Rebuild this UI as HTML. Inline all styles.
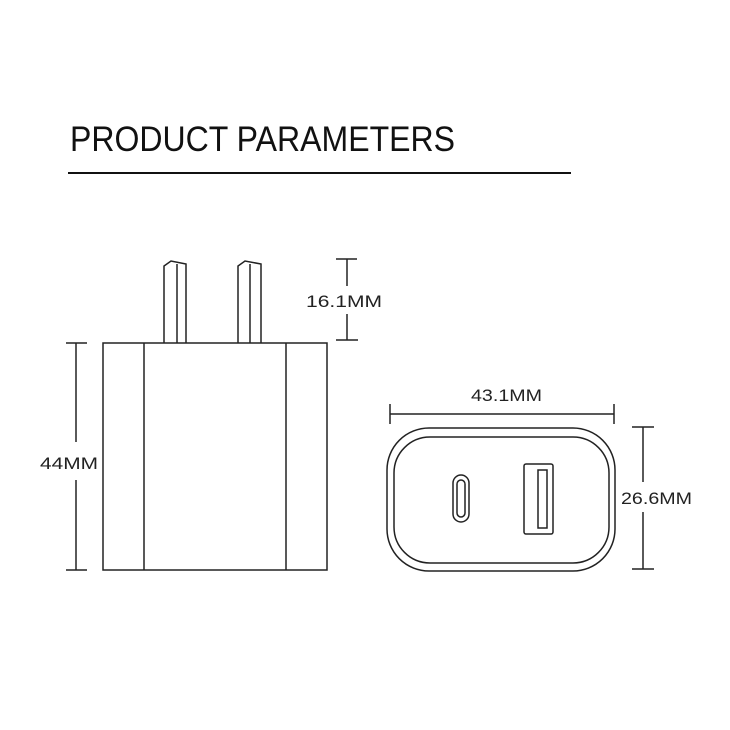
<!DOCTYPE html>
<html><head><style>html,body{margin:0;padding:0;background:#fff}svg{display:block}</style></head><body>
<svg width="730" height="730" viewBox="0 0 730 730" xmlns="http://www.w3.org/2000/svg">
<rect width="730" height="730" fill="#fff"/>
<text x="70" y="151" font-family="Liberation Sans, sans-serif" font-size="35" fill="#111" textLength="385" lengthAdjust="spacingAndGlyphs">PRODUCT PARAMETERS</text>
<line x1="68" y1="173" x2="571" y2="173" stroke="#111" stroke-width="2"/>
<g fill="none" stroke="#222" stroke-width="1.5">
<path d="M164 343 V266 L171 261 L186 264 V343"/>
<line x1="177" y1="264" x2="177" y2="343"/>
<path d="M238 343 V266 L245 261 L261 264 V343"/>
<line x1="250" y1="264" x2="250" y2="343"/>
<rect x="103" y="343" width="224" height="227"/>
<line x1="144" y1="343" x2="144" y2="570"/>
<line x1="286" y1="343" x2="286" y2="570"/>
<line x1="76" y1="343" x2="76" y2="442"/>
<line x1="76" y1="480" x2="76" y2="570"/>
<line x1="66" y1="343" x2="87" y2="343"/>
<line x1="66" y1="570" x2="87" y2="570"/>
<line x1="347" y1="259" x2="347" y2="286"/>
<line x1="347" y1="314" x2="347" y2="340"/>
<line x1="336" y1="259" x2="357" y2="259"/>
<line x1="336" y1="340" x2="358" y2="340"/>
<rect x="387" y="428" width="228" height="143" rx="42"/>
<rect x="394" y="437" width="215" height="126" rx="36"/>
<rect x="453" y="475" width="16" height="47" rx="8"/>
<rect x="457" y="480" width="8" height="37" rx="4"/>
<rect x="524" y="464" width="29" height="70" rx="2"/>
<rect x="538" y="470" width="9" height="58"/>
<line x1="390" y1="414" x2="614" y2="414"/>
<line x1="390" y1="404" x2="390" y2="424"/>
<line x1="614" y1="404" x2="614" y2="424"/>
<line x1="643" y1="427" x2="643" y2="482"/>
<line x1="643" y1="512" x2="643" y2="569"/>
<line x1="632" y1="427" x2="654" y2="427"/>
<line x1="632" y1="569" x2="654" y2="569"/>
</g>
<g font-family="Liberation Sans, sans-serif" font-size="17" fill="#222">
<text x="40" y="469" textLength="58" lengthAdjust="spacingAndGlyphs">44MM</text>
<text x="306" y="307" textLength="76" lengthAdjust="spacingAndGlyphs">16.1MM</text>
<text x="471" y="401" textLength="71" lengthAdjust="spacingAndGlyphs">43.1MM</text>
<text x="621" y="504" textLength="71" lengthAdjust="spacingAndGlyphs">26.6MM</text>
</g>
</svg>
</body></html>
